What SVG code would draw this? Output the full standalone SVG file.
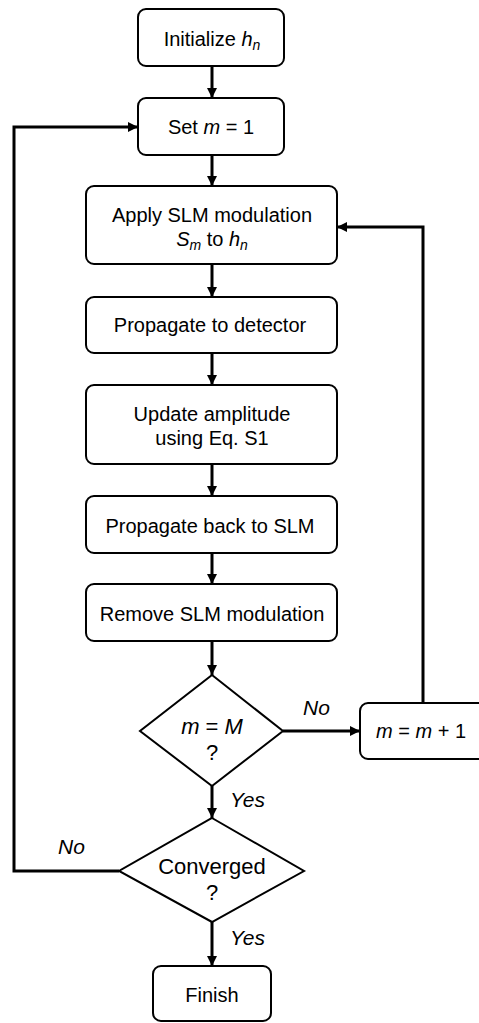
<svg xmlns="http://www.w3.org/2000/svg" width="479" height="1023" viewBox="0 0 479 1023">
<style>
.box{fill:#fff;stroke:#000;stroke-width:2}
.t{font-family:"Liberation Sans",Arial,sans-serif;font-size:20px;fill:#000;text-anchor:middle}
.d{font-size:22px}
.lbl{font-family:"Liberation Sans",Arial,sans-serif;font-size:21px;fill:#000;font-style:italic}
.i{font-style:italic}
.sub{font-size:14px;font-style:italic}
.c{fill:none;stroke:#000;stroke-width:3}
</style>
<defs>
<marker id="ah" markerUnits="userSpaceOnUse" markerWidth="10" markerHeight="10" viewBox="0 0 10 10" refX="10" refY="5" orient="auto">
<path d="M0,0 L10,5 L0,10 Z" fill="#000"/>
</marker>
</defs>
<rect width="479" height="1023" fill="#fff"/>
<g id="connectors">
<path class="c" d="M212,66 V98" marker-end="url(#ah)"/>
<path class="c" d="M212,155 V186" marker-end="url(#ah)"/>
<path class="c" d="M212,264 V297" marker-end="url(#ah)"/>
<path class="c" d="M212,353 V385" marker-end="url(#ah)"/>
<path class="c" d="M212,464 V496" marker-end="url(#ah)"/>
<path class="c" d="M212,553 V584" marker-end="url(#ah)"/>
<path class="c" d="M212,641 V675" marker-end="url(#ah)"/>
<path class="c" d="M283,731 H360" marker-end="url(#ah)"/>
<path class="c" d="M423,703 V227 H337" marker-end="url(#ah)"/>
<path class="c" d="M212,786 V818" marker-end="url(#ah)"/>
<path class="c" d="M119,871 H14 V127 H138" marker-end="url(#ah)"/>
<path class="c" d="M212,922 V966" marker-end="url(#ah)"/>
<text class="lbl" x="303" y="715">No</text>
<text class="lbl" x="230" y="807">Yes</text>
<text class="lbl" x="58" y="854">No</text>
<text class="lbl" x="230" y="945">Yes</text>
</g>
<g id="init">
<rect class="box" x="138" y="9" width="146" height="57" rx="8"/>
<text class="t" x="212" y="46">Initialize <tspan class="i">h</tspan><tspan class="sub" dy="4">n</tspan></text>
</g>
<g id="setm">
<rect class="box" x="138" y="98" width="146" height="57" rx="8"/>
<text class="t" x="211" y="134">Set <tspan class="i">m</tspan> = 1</text>
</g>
<g id="apply">
<rect class="box" x="86" y="186" width="251" height="78" rx="8"/>
<text class="t" x="212" y="222">Apply SLM modulation</text>
<text class="t" x="212" y="246"><tspan class="i">S</tspan><tspan class="sub" dy="4">m</tspan><tspan dy="-4"> to </tspan><tspan class="i">h</tspan><tspan class="sub" dy="4">n</tspan></text>
</g>
<g id="prop">
<rect class="box" x="86" y="297" width="251" height="56" rx="8"/>
<text class="t" x="210" y="332">Propagate to detector</text>
</g>
<g id="update">
<rect class="box" x="86" y="385" width="251" height="79" rx="8"/>
<text class="t" x="212" y="421">Update amplitude</text>
<text class="t" x="212" y="445">using Eq. S1</text>
</g>
<g id="back">
<rect class="box" x="86" y="496" width="251" height="57" rx="8"/>
<text class="t" x="210" y="533">Propagate back to SLM</text>
</g>
<g id="remove">
<rect class="box" x="86" y="584" width="251" height="57" rx="8"/>
<text class="t" x="212" y="621">Remove SLM modulation</text>
</g>
<g id="check-m">
<polygon class="box" points="212,675 283,731 212,786 140,731"/>
<text class="t d" x="212" y="734"><tspan class="i">m</tspan> = <tspan class="i">M</tspan></text>
<text class="t d" x="212" y="760">?</text>
</g>
<g id="incr">
<rect class="box" x="360" y="703" width="130" height="56" rx="8"/>
<text class="t" x="421" y="738"><tspan class="i">m</tspan> = <tspan class="i">m</tspan> + 1</text>
</g>
<g id="converged">
<polygon class="box" points="212,818 304,871 212,922 119,871"/>
<text class="t d" x="212" y="874">Converged</text>
<text class="t d" x="212" y="900">?</text>
</g>
<g id="finish">
<rect class="box" x="153" y="966" width="118" height="55" rx="8"/>
<text class="t" x="212" y="1002">Finish</text>
</g>
</svg>
